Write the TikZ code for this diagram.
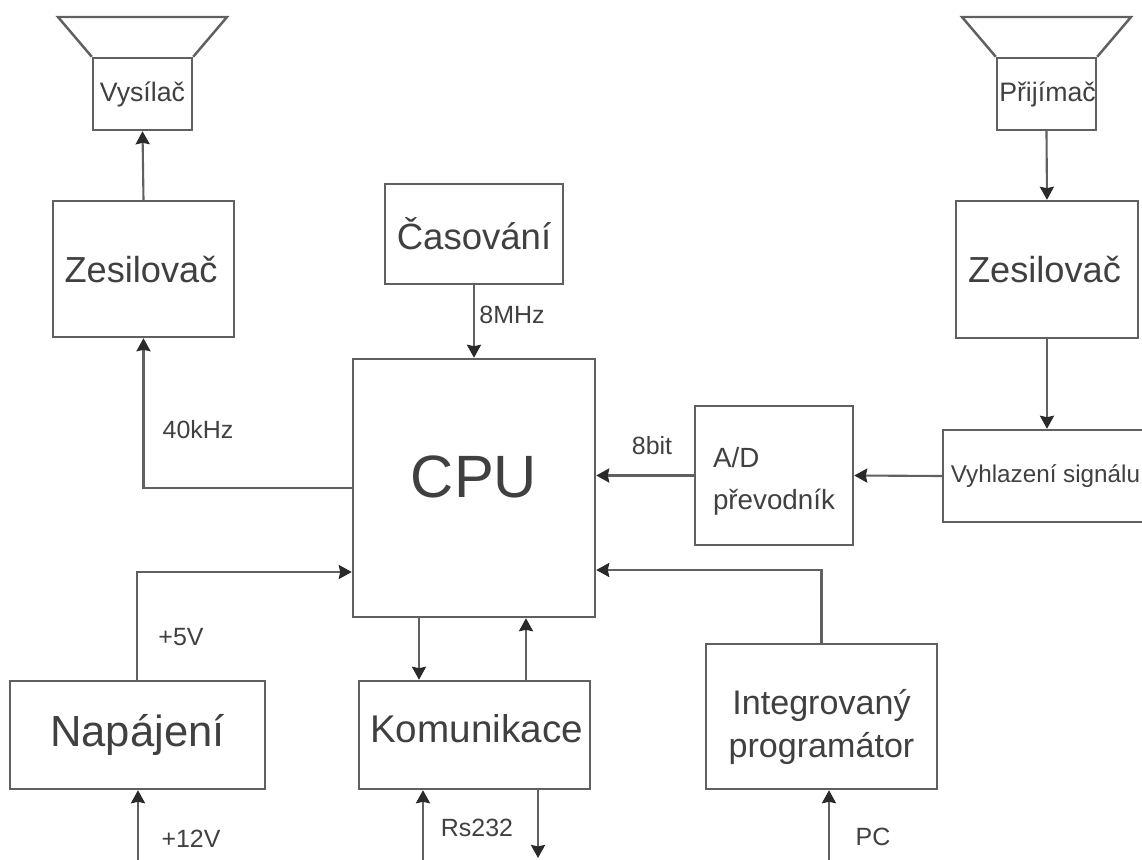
\documentclass[tikz,border=0pt]{standalone}
\usepackage{fontspec}
\setmainfont{Liberation Sans}
\usetikzlibrary{arrows.meta}
\definecolor{inkgray}{HTML}{404040}
\definecolor{linegray}{HTML}{606060}
\definecolor{tipgray}{HTML}{2A2A2A}
\newcommand{\fs}[1]{\fontsize{#1}{1.2\dimexpr #1pt\relax}\selectfont}
\newcommand{\fsl}[2]{\fontsize{#1}{#2}\selectfont}
\tikzset{
  blok/.style={draw=linegray, line width=0.7pt, inner sep=0pt, text=inkgray, align=center},
  popis/.style={text=inkgray, inner sep=0pt, font=\fs{7.1}},
  spoj/.style={draw=linegray, line width=0.6pt, -{Stealth[length=3.7pt,width=4pt,inset=0.4pt,color=tipgray]}},
  trychtyr/.style={draw=linegray, line width=0.7pt, line join=miter}
}
\begin{document}
\begin{tikzpicture}[>=Stealth]
        \useasboundingbox (0,0) rectangle (11.42,-8.6);
        % Blocks
        \node[blok, minimum width=0.99cm, minimum height=0.72cm, font=\fs{7.6}] (vysilac) at (1.425,-0.94) {Vysílač};
        \node[blok, minimum width=0.99cm, minimum height=0.72cm, font=\fs{7.6}] (prijimac) at (10.465,-0.94) {\hspace{0.02cm}Přijímač};
        \node[blok, minimum width=1.81cm, minimum height=1.36cm, font=\fs{10.3}] (zesilovacL) at (1.435,-2.69) {Zesilovač\hspace{0.05cm}};
        \node[blok, minimum width=1.82cm, minimum height=1.37cm, font=\fs{10.3}] (zesilovacR) at (10.47,-2.695) {Zesilovač\hspace{0.05cm}};
        \node[blok, minimum width=1.78cm, minimum height=1.00cm, font=\fs{10.4}] (casovani) at (4.74,-2.34) {Časování};
        \node[blok, minimum width=2.42cm, minimum height=2.58cm, font=\fs{17}] (cpu) at (4.74,-4.88) {\raisebox{-0.09cm}[0pt][0pt]{CPU}};
        \node[blok, minimum width=1.58cm, minimum height=1.39cm, font=\fsl{7.9}{12pt}] (prevodnik) at (7.74,-4.755) {\raisebox{-0.12cm}[0pt][0pt]{\begin{tabular}{@{}l@{}}A/D\\převodník\end{tabular}}};
        \node[blok, minimum width=2.05cm, minimum height=0.92cm, font=\fs{6.9}] (vyhlazeni) at (10.455,-4.76) {Vyhlazení signálu};
        \node[blok, minimum width=2.55cm, minimum height=1.08cm, font=\fs{12.4}] (napajeni) at (1.375,-7.35) {Napájení};
        \node[blok, minimum width=2.31cm, minimum height=1.08cm, font=\fs{11}] (komunikace) at (4.745,-7.35) {\raisebox{-0.07cm}[0pt][0pt]{\hspace{0.04cm}Komunikace}};
        \node[blok, minimum width=2.31cm, minimum height=1.45cm, font=\fsl{9.7}{12.2pt}] (programator) at (8.215,-7.165) {\raisebox{-0.20cm}[0pt][0pt]{\begin{tabular}{@{}c@{}}Integrovaný\\programátor\end{tabular}}};

        % Horns
        \draw[trychtyr] (vysilac.north west) -- (0.58,-0.17) -- (2.27,-0.17) -- (vysilac.north east);
        \draw[trychtyr] (prijimac.north west) -- (9.62,-0.17) -- (11.31,-0.17) -- (prijimac.north east);

        % Free ends
        \coordinate (napajeniIn) at (1.38,-8.6);
        \coordinate (komunikaceIn) at (4.23,-8.6);
        \coordinate (komunikaceOut) at (5.38,-8.58);
        \coordinate (programatorIn) at (8.29,-8.6);

        % Connectors
        \draw[spoj] (zesilovacL.north) -- (vysilac.south);
        \draw[spoj] (prijimac.south) -- (zesilovacR.north);
        \draw[spoj] (zesilovacR.south) -- (vyhlazeni.north -| zesilovacR.south);
        \draw[spoj] (vyhlazeni.west) -- (prevodnik.east);
        \draw[spoj] (prevodnik.west) -- (cpu.east |- prevodnik.west);
        \draw[spoj] (casovani.south) -- (cpu.north);
        \draw[spoj] (cpu.west) -| (zesilovacL.south);
        \draw[spoj] (programator.north) |- (cpu.east |- 0,-5.70);
        \draw[spoj] (napajeni.north -| 1.37,0) |- (cpu.west |- 0,-5.72);
        \draw[spoj] (cpu.south -| 4.19,0) -- (komunikace.north -| 4.19,0);
        \draw[spoj] (komunikace.north -| 5.26,0) -- (cpu.south -| 5.26,0);
        \draw[spoj] (napajeniIn) -- (napajeniIn |- napajeni.south);
        \draw[spoj] (komunikaceIn) -- (komunikaceIn |- komunikace.south);
        \draw[spoj] (komunikaceOut |- komunikace.south) -- (komunikaceOut);
        \draw[spoj] (programatorIn) -- (programatorIn |- programator.south);

        % Labels
        \node[popis] (f40) at (1.98,-4.30) {40kHz};
        \node[popis] (f8) at (5.12,-3.15) {8MHz};
        \node[popis] (bit8) at (6.52,-4.46) {8bit};
        \node[popis] (v5) at (1.81,-6.37) {+5V};
        \node[popis] (v12) at (1.91,-8.39) {+12V};
        \node[popis] (rs) at (4.77,-8.28) {Rs232};
        \node[popis] (pc) at (8.73,-8.37) {PC};
\end{tikzpicture}
\end{document}
